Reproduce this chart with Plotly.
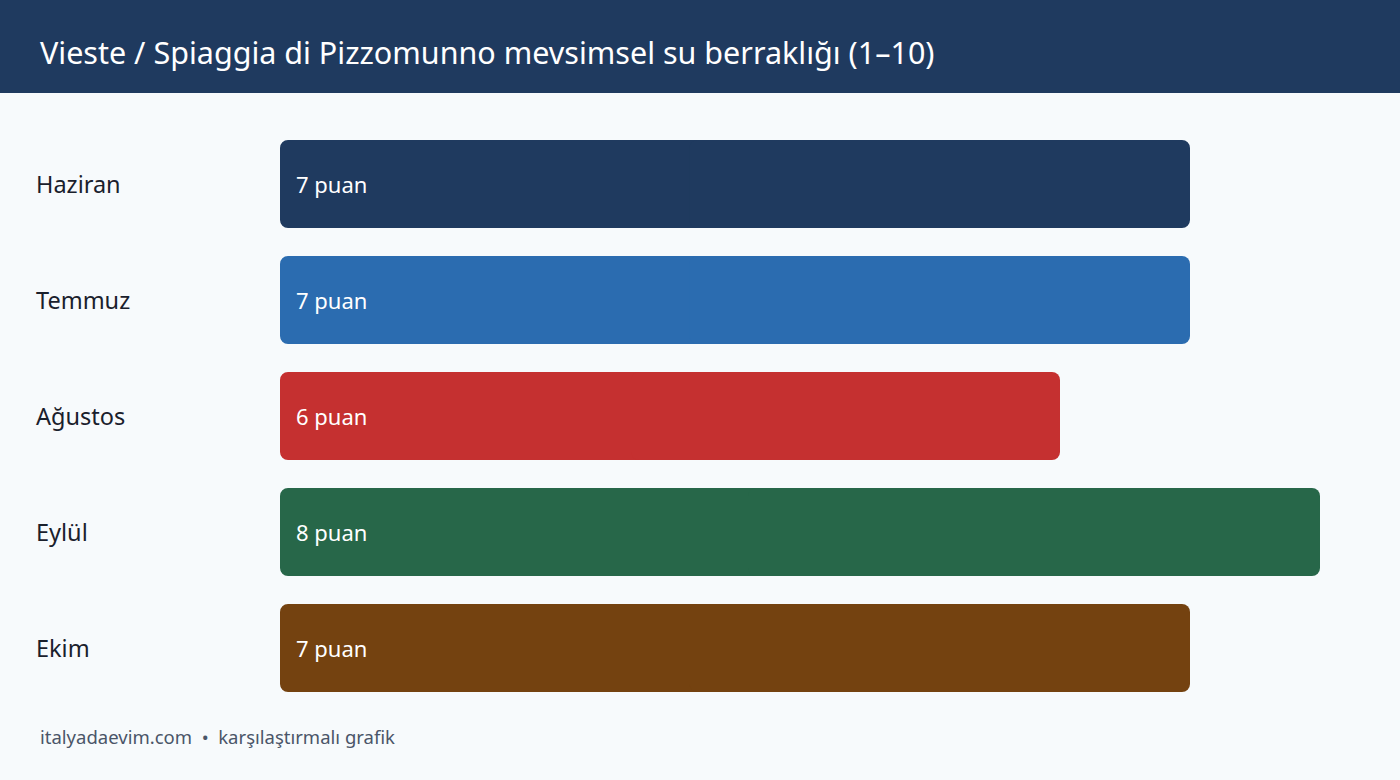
import plotly.graph_objects as go

months = ["Haziran", "Temmuz", "Ağustos", "Eylül", "Ekim"]
scores = [7, 7, 6, 8, 7]
colors = ["#1f3a5f", "#2b6cb0", "#c53030", "#276749", "#744210"]
unit = "puan"
title = "Vieste / Spiaggia di Pizzomunno mevsimsel su berraklığı (1–10)"
footer = "italyadaevim.com  •  karşılaştırmalı grafik"

W, H = 1400, 780
L, R, T, B = 280, 80, 126, 74
FONT = "Noto Sans"

def px(x):  # page pixel -> paper x
    return (x - L) / (W - L - R)

def py(y):  # page pixel -> paper y
    return (H - B - y) / (H - T - B)

fig = go.Figure()

# each bar is drawn as two overlapping halves so both ends get rounded corners
left_base = [v * 0.55 for v in scores]
fig.add_trace(go.Bar(y=months, x=[-b for b in left_base], base=left_base, orientation="h",
                     width=0.76, marker=dict(color=colors, cornerradius=8, line_width=0),
                     showlegend=False, hoverinfo="skip"))
right_base = [v * 0.45 for v in scores]
fig.add_trace(go.Bar(y=months, x=[v - b for v, b in zip(scores, right_base)], base=right_base,
                     orientation="h", width=0.76,
                     marker=dict(color=colors, cornerradius=8, line_width=0),
                     showlegend=False, hoverinfo="skip"))

annotations = []
for m, v in zip(months, scores):
    annotations.append(dict(x=0, y=m, xref="x", yref="y", text=f"{v} {unit}", showarrow=False,
                            xanchor="left", xshift=14, font=dict(family=FONT, size=22, color="white")))
    annotations.append(dict(x=px(34), y=m, xref="paper", yref="y", text=m, showarrow=False,
                            xanchor="left", font=dict(family=FONT, size=23.5, color="#1a202c")))

annotations.append(dict(x=px(38), y=py(52), xref="paper", yref="paper", text=title, showarrow=False,
                        xanchor="left", yanchor="middle", font=dict(family=FONT, size=30.5, color="white")))
annotations.append(dict(x=px(38), y=py(736), xref="paper", yref="paper", text=footer, showarrow=False,
                        xanchor="left", yanchor="middle", font=dict(family=FONT, size=18.5, color="#4a5568")))

fig.update_layout(
    width=W, height=H, barmode="overlay",
    paper_bgcolor="#f7fafc", plot_bgcolor="#f7fafc",
    margin=dict(l=L, r=R, t=T, b=B),
    annotations=annotations,
    shapes=[dict(type="rect", xref="paper", yref="paper", x0=px(0), x1=px(W), y0=py(93), y1=py(0),
                 fillcolor="#1f3a5f", line_width=0, layer="below")],
)
fig.update_xaxes(range=[0, max(scores)], visible=False)
fig.update_yaxes(autorange="reversed", showticklabels=False, showgrid=False, zeroline=False)

fig.write_html("out.html", config={"displayModeBar": False},
               post_script="document.body.style.margin='0';")
